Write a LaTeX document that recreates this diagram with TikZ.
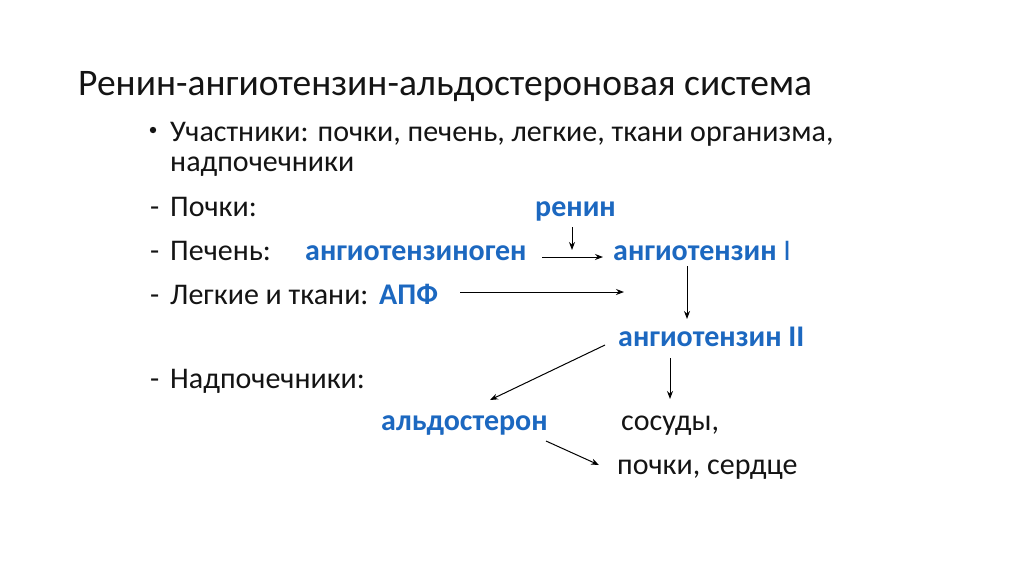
\documentclass[tikz,border=0pt]{standalone}
\usepackage{fontspec}
\setmainfont{Carlito}
\usetikzlibrary{arrows.meta}
\definecolor{bl}{RGB}{28,104,192}
\definecolor{tx}{RGB}{20,20,20}
\tikzset{
  body/.style={anchor=base west,inner sep=0pt,text=tx,font=\fontsize{30}{34}\selectfont},
  hl/.style={anchor=base west,inner sep=0pt,text=bl,font=\fontsize{30}{34}\selectfont\bfseries},
  arr/.style={draw=black,line width=1pt,-{Stealth[length=8pt,width=6pt]}}
}
\begin{document}
\begin{tikzpicture}[x=1pt,y=-1pt]
\useasboundingbox (0,0) rectangle (1024,574);
\fill[white] (0,0) rectangle (1024,574);
\node[anchor=base west,inner sep=0pt,text=tx,font=\fontsize{37.5}{40}\selectfont] (title) at (78,95) {Ренин-ангиотензин-альдостероновая система};
\fill[tx] (153,130) circle (3.2);
\node[body] (t1) at (170,141) {Участники: почки, печень, легкие, ткани организма,};
\node[body] (t2) at (170,171) {надпочечники};
\node[body] (d1) at (150,216) {-};
\node[body] (t3) at (170,216) {Почки:};
\node[hl] (renin) at (535,216) {ренин};
\node[body] (d2) at (150,260) {-};
\node[body] (t4) at (170,260) {Печень:};
\node[hl] (agen) at (305,260) {ангиотензиноген};
\node[hl] (a1) at (613,260) {ангиотензин \textmd{I}};
\node[body] (d3) at (150,304) {-};
\node[body] (t5) at (170,304) {Легкие и ткани:};
\node[hl] (apf) at (379,304) {АПФ};
\node[hl] (a2) at (618,346) {ангиотензин II};
\node[body] (d4) at (150,388) {-};
\node[body] (t6) at (170,388) {Надпочечники:};
\node[hl] (ald) at (381,430) {альдостерон};
\node[body] (ves) at (621,430) {сосуды,};
\node[body] (org) at (617,474) {почки, сердце};
\coordinate (r0) at (572,227);
\coordinate (r1) at (572,250);
\coordinate (h0) at (542,257);
\coordinate (h1) at (603,257);
\coordinate (p0) at (460,292);
\coordinate (p1) at (624,292);
\coordinate (v0) at (687,266);
\coordinate (v1) at (687,319);
\coordinate (g0) at (605,345);
\coordinate (g1) at (490,400);
\coordinate (s0) at (670,358);
\coordinate (s1) at (670,399);
\coordinate (k0) at (546,441);
\coordinate (k1) at (599,465);
\draw[arr] (r0) -- (r1);
\draw[arr] (h0) -- (h1);
\draw[arr] (p0) -- (p1);
\draw[arr] (v0) -- (v1);
\draw[arr] (g0) -- (g1);
\draw[arr] (s0) -- (s1);
\draw[arr] (k0) -- (k1);
\end{tikzpicture}
\end{document}
